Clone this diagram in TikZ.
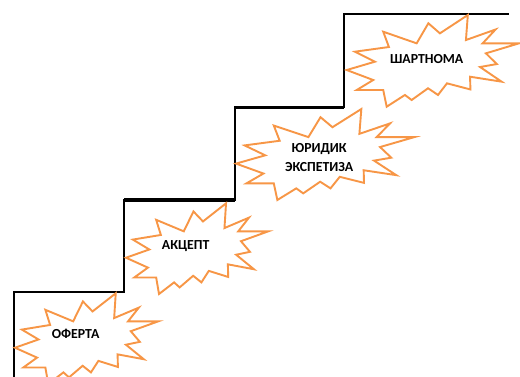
\documentclass[tikz,border=0pt]{standalone}
\usepackage{fontspec}
\setmainfont{Carlito}
\definecolor{burstorange}{HTML}{F79646}
\tikzset{
  stair/.style={draw=black, line width=2pt, line join=miter},
  stairthick/.style={draw=black, line width=3.2pt},
  burstline/.style={draw=burstorange, fill=white, line width=1.9pt, line join=miter},
  label/.style={font=\fontsize{13.8}{19.6}\selectfont\bfseries, text=black, align=center, inner sep=0pt}
}
\newcommand\mkburst[4]{%
  \begin{scope}[shift={(#1,#2)}, xscale=#3, yscale=#4]
    \draw[burstline] (0.703,0) -- (0.692,0.273) -- (0.864,0.158) -- (0.789,0.309) -- (1,0.309) -- (0.808,0.418) -- (0.871,0.535) -- (0.774,0.567) -- (0.899,0.727) -- (0.716,0.673) -- (0.718,0.812) -- (0.582,0.745) -- (0.530,0.872) -- (0.472,0.799) -- (0.377,0.927) -- (0.338,0.872) -- (0.232,1) -- (0.212,0.818) -- (0.058,0.818) -- (0.154,0.709) -- (0,0.60) -- (0.164,0.509) -- (0.048,0.40) -- (0.245,0.349) -- (0.212,0.182) -- (0.406,0.309) -- (0.474,0.09) -- (0.541,0.200) -- cycle;
  \end{scope}}
\begin{document}
\begin{tikzpicture}[x=1pt,y=-1pt]
\useasboundingbox[fill=white] (0,0) rectangle (520,376);
% staircase
\draw[stair] (14,377) -- (14,291.7) -- (124.3,291.7) -- (124.3,200) -- (235,200) -- (235,107.3) -- (344.3,107.3) -- (344.3,14.3) -- (509,14.3);
\draw[stairthick] (124.3,200) -- (235,200);
\draw[stairthick] (235,107.3) -- (344.3,107.3);
% bursts
\mkburst{15}{293.3}{143.3}{90.7}
\mkburst{126}{203.3}{142.3}{90.7}
\mkburst{236}{109}{178.3}{91}
\mkburst{346.7}{15}{172.3}{91.7}
% labels
\node[label] (oferta) at (75.7,334) {ОФЕРТА};
\node[label] (aktsept) at (185.7,246) {АКЦЕПТ};
\node[label] (yurid) at (319.2,157.5) {ЮРИДИК\\ЭКСПЕТИЗА};
\node[label] (shart) at (426.7,59) {ШАРТНОМА};
\end{tikzpicture}
\end{document}
